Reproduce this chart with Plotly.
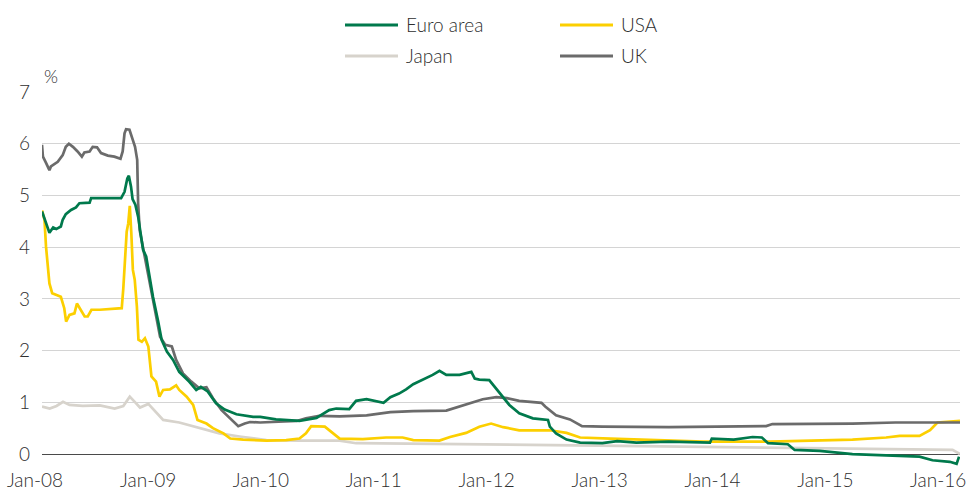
import plotly.graph_objects as go

# ---------------- data (3-month interbank rates, %) ----------------
euro_dates = ["2008-01-01","2008-01-09","2008-01-20","2008-01-25","2008-02-06","2008-02-16","2008-03-02","2008-03-08",
    "2008-03-18","2008-04-04","2008-04-20","2008-05-01","2008-06-03","2008-06-08","2008-07-20","2008-09-13",
    "2008-09-24","2008-10-03","2008-10-08","2008-10-15","2008-10-20","2008-10-29","2008-11-07","2008-11-17",
    "2008-11-23","2008-12-03","2008-12-10","2008-12-25","2009-01-11","2009-01-22","2009-02-08","2009-02-28",
    "2009-03-20","2009-04-21","2009-05-14","2009-05-29","2009-06-20","2009-07-17","2009-08-14","2009-09-21",
    "2009-11-14","2009-12-07","2010-01-27","2010-04-13","2010-06-07","2010-07-18","2010-08-10","2010-09-21",
    "2010-10-13","2010-11-16","2011-01-10","2011-02-01","2011-03-01","2011-03-24","2011-04-16","2011-05-16",
    "2011-06-18","2011-07-10","2011-08-01","2011-09-13","2011-10-21","2011-11-01","2011-11-16","2011-12-18",
    "2012-01-21","2012-02-21","2012-03-24","2012-05-07","2012-06-25","2012-07-01","2012-07-21","2012-08-24",
    "2012-10-07","2012-12-18","2013-02-04","2013-04-07","2013-07-21","2013-11-10","2013-12-01","2013-12-07",
    "2014-02-16","2014-04-18","2014-05-18","2014-06-07","2014-08-10","2014-09-01","2014-11-21","2015-03-07",
    "2015-06-24","2015-10-10","2015-11-21","2016-01-16","2016-02-07","2016-02-15"]
euro_values = [4.69,4.56,4.40,4.28,4.38,4.35,4.40,4.53,
    4.64,4.72,4.77,4.85,4.86,4.95,4.95,4.95,
    5.07,5.33,5.38,5.17,4.93,4.82,4.59,4.20,
    3.95,3.82,3.55,3.04,2.56,2.21,1.98,1.82,
    1.59,1.40,1.24,1.30,1.21,0.98,0.86,0.77,
    0.72,0.72,0.67,0.64,0.70,0.85,0.88,0.87,
    1.03,1.06,0.99,1.10,1.17,1.25,1.35,1.43,
    1.53,1.61,1.53,1.53,1.59,1.46,1.44,1.43,
    1.17,0.95,0.79,0.69,0.66,0.53,0.40,0.28,
    0.22,0.21,0.25,0.22,0.24,0.23,0.22,0.30,
    0.28,0.33,0.32,0.21,0.19,0.08,0.06,0.00,
    -0.02,-0.05,-0.12,-0.15,-0.19,-0.05]

usa_dates = ["2008-01-01","2008-01-09","2008-01-14","2008-01-20","2008-01-25","2008-02-03","2008-02-16","2008-03-02",
    "2008-03-13","2008-03-19","2008-03-30","2008-04-15","2008-04-23","2008-05-02","2008-05-18","2008-05-28",
    "2008-06-09","2008-07-06","2008-08-08","2008-09-15","2008-09-20","2008-09-25","2008-10-01","2008-10-06",
    "2008-10-11","2008-10-16","2008-10-21","2008-10-27","2008-11-03","2008-11-08","2008-11-19","2008-11-29",
    "2008-12-10","2008-12-20","2009-01-04","2009-01-15","2009-01-27","2009-02-18","2009-03-10","2009-03-20",
    "2009-04-13","2009-05-04","2009-05-18","2009-06-16","2009-07-07","2009-08-10","2009-09-01","2009-10-13",
    "2009-12-27","2010-03-01","2010-04-13","2010-05-04","2010-05-21","2010-07-04","2010-07-18","2010-08-21",
    "2010-11-04","2011-01-18","2011-03-13","2011-04-16","2011-07-10","2011-08-13","2011-10-04","2011-11-16",
    "2011-12-24","2012-02-01","2012-03-24","2012-07-01","2012-08-24","2012-10-07","2013-01-13","2013-06-01",
    "2013-11-10","2014-06-13","2014-11-21","2015-03-07","2015-06-24","2015-08-07","2015-10-10","2015-11-13",
    "2015-12-07","2016-02-18"]
usa_values = [4.71,4.53,4.01,3.69,3.30,3.11,3.08,3.04,
    2.82,2.56,2.69,2.72,2.91,2.82,2.66,2.66,
    2.79,2.79,2.80,2.82,3.20,3.75,4.30,4.46,
    4.80,4.27,3.56,3.37,2.85,2.21,2.17,2.24,
    2.08,1.50,1.40,1.11,1.24,1.25,1.33,1.24,
    1.11,0.95,0.66,0.59,0.50,0.40,0.30,0.28,
    0.26,0.27,0.30,0.40,0.54,0.53,0.46,0.30,
    0.29,0.32,0.32,0.27,0.26,0.33,0.41,0.53,
    0.59,0.52,0.46,0.46,0.41,0.32,0.30,0.27,
    0.24,0.24,0.26,0.28,0.32,0.35,0.35,0.46,
    0.61,0.64]

japan_dates = ["2008-01-01","2008-01-26","2008-02-17","2008-03-09","2008-03-30","2008-05-12","2008-07-06","2008-08-23",
    "2008-09-20","2008-10-11","2008-10-27","2008-11-13","2008-12-10","2009-01-01","2009-01-27","2009-03-20",
    "2009-05-24","2009-07-28","2009-10-01","2009-12-27","2010-04-13","2010-08-21","2010-10-13","2011-10-25",
    "2013-02-13","2014-08-04","2016-01-25","2016-02-18"]
japan_values = [0.92,0.88,0.93,1.01,0.95,0.93,0.94,0.88,
    0.93,1.11,1.01,0.90,0.97,0.82,0.66,0.61,
    0.50,0.40,0.34,0.27,0.26,0.26,0.21,0.19,
    0.16,0.12,0.08,0.00]

uk_dates = ["2008-01-01","2008-01-04","2008-01-14","2008-01-25","2008-01-30","2008-02-21","2008-03-08","2008-03-18",
    "2008-03-28","2008-04-10","2008-04-25","2008-05-09","2008-05-17","2008-06-03","2008-06-13","2008-06-27",
    "2008-07-10","2008-08-01","2008-08-22","2008-09-11","2008-09-18","2008-09-24","2008-09-29","2008-10-10",
    "2008-10-21","2008-10-28","2008-11-04","2008-11-07","2008-11-12","2008-11-22","2008-12-03","2008-12-14",
    "2008-12-22","2009-01-07","2009-01-17","2009-02-03","2009-02-24","2009-03-10","2009-04-01","2009-04-28",
    "2009-05-24","2009-06-16","2009-07-07","2009-08-04","2009-09-07","2009-09-27","2009-10-18","2009-11-04",
    "2009-12-07","2010-01-18","2010-04-04","2010-05-04","2010-06-16","2010-08-21","2010-11-16","2011-02-01",
    "2011-04-16","2011-08-01","2011-09-13","2011-10-16","2011-11-16","2011-11-27","2012-01-10","2012-02-13",
    "2012-03-24","2012-06-04","2012-06-16","2012-07-21","2012-09-04","2012-10-13","2012-12-18","2013-07-21",
    "2013-12-24","2014-06-01","2014-06-21","2015-03-07","2015-07-24","2016-02-18"]
uk_values = [5.98,5.75,5.63,5.49,5.56,5.65,5.78,5.94,
    6.00,5.94,5.85,5.75,5.83,5.85,5.94,5.93,
    5.82,5.77,5.75,5.71,5.85,6.20,6.28,6.27,
    6.07,5.94,5.69,4.85,4.33,4.01,3.65,3.31,
    3.05,2.59,2.27,2.11,2.08,1.82,1.56,1.40,
    1.27,1.29,1.08,0.85,0.66,0.54,0.59,0.62,
    0.61,0.62,0.64,0.69,0.74,0.73,0.75,0.81,
    0.83,0.84,0.92,0.98,1.03,1.06,1.10,1.08,
    1.03,0.99,0.92,0.75,0.67,0.54,0.53,0.52,
    0.53,0.54,0.58,0.59,0.61,0.61]

tick_dates = ["2008-01-01","2009-01-01","2010-01-01","2011-01-01","2012-01-01",
              "2013-01-01","2014-01-01","2015-01-01","2016-01-01"]
tick_labels = ["Jan-08","Jan-09","Jan-10","Jan-11","Jan-12","Jan-13","Jan-14","Jan-15","Jan-16"]
y_ticks = [0, 1, 2, 3, 4, 5, 6, 7]

series_names = ["Euro area", "USA", "Japan", "UK"]
series_colors = {"Euro area": "#00794c", "USA": "#fccf00", "Japan": "#d7d3cc", "UK": "#6b6b6b"}
series_data = {"Euro area": (euro_dates, euro_values), "USA": (usa_dates, usa_values),
               "Japan": (japan_dates, japan_values), "UK": (uk_dates, uk_values)}
draw_order = ["Japan", "USA", "UK", "Euro area"]

# ---------------- figure ----------------
FONT = "Lato, Open Sans, sans-serif"
TEXT = "#2e2e2e"
FS = 19

fig = go.Figure()
for name in draw_order:
    d, v = series_data[name]
    fig.add_trace(go.Scatter(
        x=d, y=v, name=name, mode="lines",
        line=dict(color=series_colors[name], width=2.7),
        showlegend=False, hoverinfo="skip",
    ))

# legend (two columns, drawn in paper coordinates)
L, T, B, W, H = 42, 92, 35, 969, 502
plot_w = W - L - 9
plot_h = H - T - B
def px_to_paper_x(px):
    return (px - L) / plot_w
def py_to_paper_y(py):
    return (H - B - py) / plot_h

legend_slots = {"Euro area": (345, 25), "USA": (560, 25), "Japan": (345, 56), "UK": (560, 56)}
shapes = []
annotations = []
for name in series_names:
    lx, ly = legend_slots[name]
    shapes.append(dict(type="line", xref="paper", yref="paper",
                       x0=px_to_paper_x(lx), x1=px_to_paper_x(lx + 53),
                       y0=py_to_paper_y(ly), y1=py_to_paper_y(ly),
                       line=dict(color=series_colors[name], width=3)))
    annotations.append(dict(text=name, xref="paper", yref="paper",
                            x=px_to_paper_x(lx + 59), y=py_to_paper_y(ly),
                            xanchor="left", yanchor="middle", showarrow=False,
                            font=dict(family=FONT, size=FS, color=TEXT, weight=300)))

annotations.append(dict(text="%", x=0, xref="paper", xanchor="left", xshift=0,
                        y=7.0, yref="y", yanchor="bottom", yshift=3, showarrow=False,
                        font=dict(family=FONT, size=18, color=TEXT, weight=300)))

fig.update_layout(
    width=W, height=H,
    margin=dict(l=L, r=9, t=T, b=B, autoexpand=False),
    paper_bgcolor="white", plot_bgcolor="white",
    font=dict(family=FONT, size=FS, color=TEXT, weight=300),
    showlegend=False,
    shapes=shapes,
    annotations=annotations,
    xaxis=dict(
        type="date", range=["2008-01-01", "2016-02-18"], automargin=False,
        tickmode="array", tickvals=tick_dates, ticktext=tick_labels,
        showgrid=False, zeroline=False, showline=False, ticks="",
        ticklabelshift=-7, ticklabelstandoff=0,
        tickfont=dict(family=FONT, size=FS, color=TEXT, weight=300),
    ),
    yaxis=dict(
        range=[-0.25, 7.0], tickmode="array", tickvals=y_ticks, automargin=False,
        showgrid=True, gridcolor="#d4d4d4", gridwidth=1.3,
        zeroline=True, zerolinecolor="#4a4a4a", zerolinewidth=1.3,
        showline=False, ticks="", ticklabelstandoff=11,
        tickfont=dict(family=FONT, size=FS, color=TEXT, weight=300),
    ),
)

fig.write_html("out.html", config={"displayModeBar": False},
               post_script="document.body.style.margin='0';document.body.style.padding='0';")
